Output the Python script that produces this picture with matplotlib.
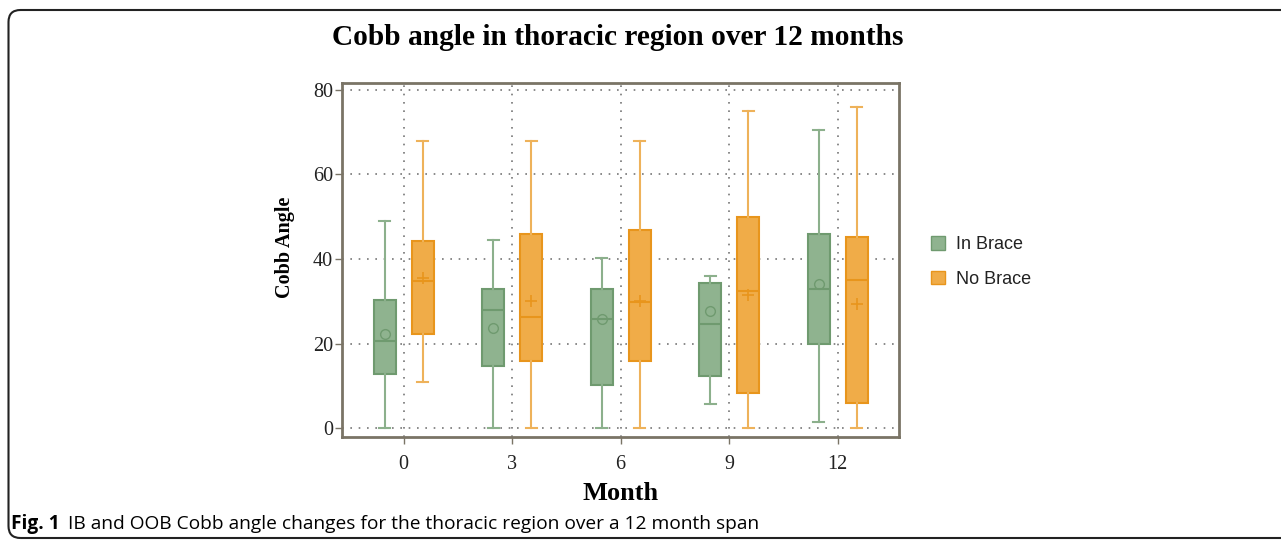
import matplotlib
matplotlib.use("Agg")
import matplotlib.pyplot as plt
from matplotlib.patches import FancyBboxPatch, Patch

months = ["0", "3", "6", "9", "12"]
series = ["In Brace", "No Brace"]

ib_min = [0.0, 0.0, 0.0, 5.8, 1.5]
ib_q1 = [12.8, 14.6, 10.1, 12.4, 19.9]
ib_med = [20.5, 28.0, 25.8, 24.7, 32.9]
ib_q3 = [30.3, 32.9, 32.9, 34.4, 45.9]
ib_max = [48.9, 44.5, 40.2, 35.9, 70.6]
ib_mean = [22.2, 23.6, 25.9, 27.7, 34.0]

nb_min = [10.9, 0.0, 0.0, 0.0, 0.0]
nb_q1 = [22.3, 15.9, 15.9, 8.4, 6.0]
nb_med = [34.9, 26.2, 29.8, 32.5, 35.1]
nb_q3 = [44.3, 45.9, 46.8, 49.8, 45.2]
nb_max = [67.9, 67.9, 67.9, 74.9, 75.9]
nb_mean = [35.6, 30.1, 30.1, 31.5, 29.3]

W, H = 1281, 542
fig = plt.figure(figsize=(W / 100, H / 100), dpi=100)
fig.patch.set_facecolor("white")

# outer rounded frame (inches)
frame = FancyBboxPatch((0.085, 0.04), 13.5, 5.28, boxstyle="round,pad=0,rounding_size=0.12",
                       transform=fig.dpi_scale_trans, fill=False, edgecolor="#222222", linewidth=1.5,
                       clip_on=False)
fig.patches.append(frame)

ax = fig.add_axes([342 / W, 1 - 437 / H, (899 - 342) / W, (437 - 83) / H])

def stats(mn, q1, md, q3, mx, mean):
    out = []
    for i in range(len(mn)):
        out.append(dict(whislo=mn[i], q1=q1[i], med=md[i], q3=q3[i], whishi=mx[i], mean=mean[i], fliers=[]))
    return out

pos = list(range(len(months)))
off = 0.175
bw = 0.205

green_fill, green_edge, green_wh = "#8fb38f", "#6f9a6f", "#8cb08c"
orange_fill, orange_edge, orange_wh = "#f0ac48", "#e8951c", "#eeb25a"

ax.bxp(stats(ib_min, ib_q1, ib_med, ib_q3, ib_max, ib_mean), positions=[p - off for p in pos],
       widths=bw, patch_artist=True, showmeans=True, showfliers=False, capwidths=0.1,
       boxprops=dict(facecolor=green_fill, edgecolor=green_edge, linewidth=1.5),
       medianprops=dict(color=green_edge, linewidth=1.5),
       whiskerprops=dict(color=green_wh, linewidth=1.5),
       capprops=dict(color=green_wh, linewidth=1.5),
       meanprops=dict(marker="o", markerfacecolor="none", markeredgecolor=green_edge, markersize=7, markeredgewidth=1.0),
       zorder=3)
ax.bxp(stats(nb_min, nb_q1, nb_med, nb_q3, nb_max, nb_mean), positions=[p + off for p in pos],
       widths=bw, patch_artist=True, showmeans=True, showfliers=False, capwidths=0.1,
       boxprops=dict(facecolor=orange_fill, edgecolor=orange_edge, linewidth=1.5),
       medianprops=dict(color=orange_edge, linewidth=1.5),
       whiskerprops=dict(color=orange_wh, linewidth=1.5),
       capprops=dict(color=orange_wh, linewidth=1.5),
       meanprops=dict(marker="+", markeredgecolor=orange_edge, markersize=9, markeredgewidth=1.2),
       zorder=3)

ax.set_xlim(-0.568, len(months) - 1 + 0.565)
ax.set_ylim(-2.1, 81.6)
ax.set_xticks(pos)
ax.set_xticklabels(months)
ax.set_yticks([0, 20, 40, 60, 80])
serif = "Liberation Serif"
for lab in ax.get_xticklabels() + ax.get_yticklabels():
    lab.set_fontfamily(serif)
    lab.set_fontsize(14.5)
    lab.set_color("#222222")

ax.grid(True, linestyle=(0, (1, 4)), color="#777777", linewidth=1.2, zorder=0)
ax.set_axisbelow(True)
for s in ax.spines.values():
    s.set_color("#7a7466")
    s.set_linewidth(2)
ax.tick_params(axis="both", direction="out", length=5, color="#7a7466", width=1)
ax.tick_params(axis="y", pad=1.5)
ax.tick_params(axis="x", pad=8)

ax.set_ylabel("Cobb Angle", fontfamily=serif, fontweight="bold", fontsize=14.5)
ax.yaxis.set_label_coords(-0.085, 0.537)
ax.set_xlabel("Month", fontfamily=serif, fontweight="bold", fontsize=19, labelpad=6)
fig.text(618 / W, 1 - 38 / H, "Cobb angle in thoracic region over 12 months", ha="center", va="center",
         fontfamily=serif, fontweight="bold", fontsize=21.2)

handles = [Patch(facecolor=green_fill, edgecolor=green_edge, label=series[0]),
           Patch(facecolor=orange_fill, edgecolor=orange_edge, label=series[1])]
leg = fig.legend(handles=handles, loc="center left", bbox_to_anchor=(915 / W, 1 - 262 / H), frameon=False,
                 prop=dict(family="Liberation Sans", size=13), handlelength=0.78, handleheight=0.78,
                 labelspacing=0.95, handletextpad=0.6)
for t in leg.get_texts():
    t.set_color("#222222")

fig.text(11 / W, 1 - 524 / H, "Fig. 1", ha="left", va="center", fontfamily="Open Sans", fontweight="bold", fontsize=13.8)
fig.text(68 / W, 1 - 524 / H, "IB and OOB Cobb angle changes for the thoracic region over a 12 month span",
         ha="left", va="center", fontfamily="Open Sans", fontsize=13.8)

fig.savefig("out.png", dpi=100)
